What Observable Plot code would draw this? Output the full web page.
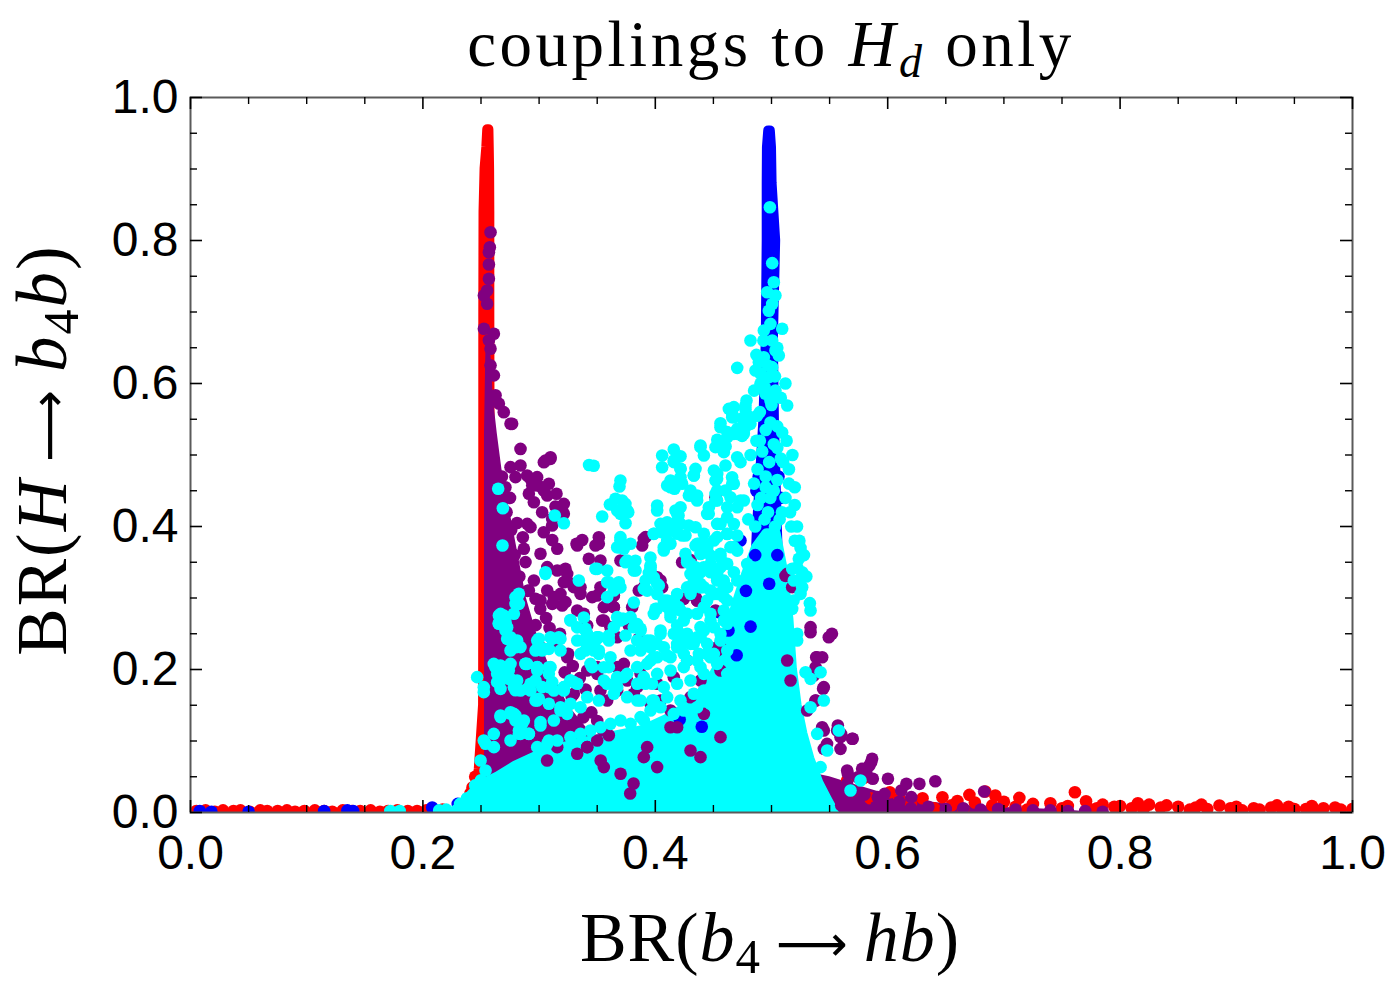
<!DOCTYPE html>
<html><head><meta charset="utf-8">
<script src="https://cdn.jsdelivr.net/npm/d3@7"></script>
<script src="https://cdn.jsdelivr.net/npm/@observablehq/plot@0.6"></script>
<style>body{margin:0;background:#fff}svg{display:block}</style>
</head><body><div id="chart"></div>
<script>
const xTicks = [0, 0.2, 0.4, 0.6, 0.8, 1.0];
const yTicks = [0, 0.2, 0.4, 0.6, 0.8, 1.0];
const minorTicks = [0.05,0.1,0.15,0.25,0.3,0.35,0.45,0.5,0.55,0.65,0.7,0.75,0.85,0.9,0.95];

// red points along the bottom, left of the spike  [x, y]
const redBase = [[.005,.002],[.013,.003],[.021,.001],[.028,.003],[.037,.002],[.043,.003],[.051,.001],[.06,.003],[.066,.002],[.075,.002],[.083,.003],[.09,.001],[.098,.002],[.107,.003],[.115,.002],[.122,.001],[.131,.003],[.139,.002],[.146,.002],[.155,.003],[.163,.001],[.17,.002],[.178,.003],[.187,.002],[.195,.002],[.203,.003],[.211,.002],[.217,.004],[.241,.027],[.2427,.035],[.238,.012],[.245,.05]];
const blueBase = [[.008,.002],[.018,.001],[.05,.001],[.115,.002],[.135,.003],[.14,.002],[.208,.007],[.23,.012]];
// red spike: [y, xLeft, xRight]
const redSpike = [[0,.2445,.2585],[.02,.245,.258],[.06,.2485,.2576],[.15,.2522,.2578],[.3,.2524,.2578],[.5,.2524,.2578],[.7,.2524,.2576],[.84,.2526,.2576],[.9,.2535,.2574],[.93,.255,.2571],[.955,.2558,.2568]];
// blue spike: [y, xLeft, xRight]
const blueSpike = [[0,.47,.515],[.1,.475,.512],[.25,.484,.508],[.4,.488,.505],[.55,.4935,.5025],[.66,.4955,.5016],[.8,.4963,.5036],[.88,.4963,.5005],[.93,.4965,.5],[.953,.4976,.499]];
// dense purple block: [y, xLeft, xRight]
const purpleBlock = [[0,.253,.42],[.06,.253,.40],[.10,.253,.35],[.15,.253,.325],[.20,.253,.31],[.25,.253,.298],[.30,.253,.289],[.36,.253,.282],[.42,.253,.275],[.48,.253,.268],[.53,.253,.264],[.58,.2535,.2605],[.63,.254,.259],[.66,.2545,.2575]];
// dense purple tail: [x, y]
const purpleTail = [[.52,.06],[.55,.05],[.57,.04],[.59,.03],[.61,.022],[.63,.016],[.66,.01],[.7,.007],[.75,.004],[.78,0]];
// red tail points [x, y]
const redTail = [[.5651,.0448],[.5795,.0485],[.6018,.0284],[.6471,.0214],[.6703,.0247],[.684,.0294],[.6926,.0238],[.675,.014],[.70,.015],[.7133,.0205],[.725,.012],[.74,.013],[.7611,.0284],[.7707,.0158],[.785,.011],[.80,.009],[.8153,.013],[.825,.011],[.835,.007],[.85,.008],[.865,.007],[.8855,.0098],[.90,.008],[.915,.006],[.93,.007],[.945,.008],[.96,.005],[.975,.006],[.99,.004],[1.0,.005],[.62,.012],[.63,.02],[.655,.01],[.66,.016],[.69,.01],[.71,.008],[.75,.006],[.78,.006],[.795,.008],[.81,.006],[.84,.01],[.87,.011],[.875,.005],[.895,.006],[.92,.004],[.935,.01],[.95,.005],[.965,.009],[.985,.007],[.57,.03],[.585,.02],[.61,.02],[.64,.006],[.665,.005],[.72,.004],[.755,.009],[.775,.004],[.82,.004],[.86,.004],[.905,.003],[.94,.003],[.97,.002]];
// dense cyan core: [x, y]
const cyanCore = [[.226,0],[.235,.012],[.245,.03],[.255,.042],[.265,.05],[.28,.065],[.30,.08],[.33,.095],[.36,.105],[.39,.115],[.41,.13],[.43,.15],[.445,.175],[.455,.205],[.463,.25],[.47,.29],[.478,.33],[.487,.37],[.496,.39],[.504,.39],[.51,.34],[.515,.27],[.518,.2],[.522,.15],[.527,.11],[.533,.075],[.541,.04],[.548,.018],[.554,0]];
// blue points showing through the cyan core
const blueCore = [[.4733,.3804],[.463,.2545],[.482,.26],[.487,.45],[.492,.42],[.489,.47],[.508,.44],[.506,.47],[.486,.36],[.505,.36],[.421,.13],[.455,.28],[.478,.31],[.498,.32],[.47,.22],[.44,.12]];
// scattered purple points
const purplePts = [[.2582,.8116],[.2576,.7906],[.2568,.7836],[.2568,.7664],[.2568,.7464],[.2553,.7301],[.2525,.7231],[.2553,.7115],[.2525,.6766],[.2611,.6696],[.2568,.6604],[.2582,.6487],[.2582,.6254],[.2611,.6114],[.2625,.5835],[.2654,.5718],
[.2696,.5599],[.2754,.5436],[.2768,.5436],[.284,.5085],[.3098,.4969],[.3041,.4899],[.284,.4853],[.2897,.4713],[.2983,.469],[.3084,.4597],[.3026,.455],[.3213,.4317],[.3141,.428],[.315,.4457],
[.2754,.483],[.2797,.469],[.2926,.4667],[.2984,.4573],[.304,.4503],[.2912,.4457],[.2955,.434],[.3055,.4923],[.2941,.4573],[.307,.4434],[.3026,.42],[.3098,.4946],[.3213,.4178],[.3112,.4108],[.3112,.4015],
[.2898,.4037],[.2926,.3991],[.304,.392],[.3113,.3811],[.3371,.3811],[.3514,.385],[.3485,.3734],[.3322,.3758],[.3528,.3524],[.37,.3524],[.3901,.3827],[.3887,.3734],
[.2869,.3688],[.2883,.3502],[.3012,.3618],[.307,.3432],[.3156,.3385],[.3242,.3338],[.3213,.3221],[.3299,.3152],[.3356,.3058],
[.2955,.3245],[.2912,.3105],[.3012,.2965],[.3127,.3012],[.3227,.2942],
[.3643,.3035],[.3528,.3151],[.3457,.3012],[.3858,.3105],[.4045,.3151],[.3801,.2872],[.3643,.2872],
[.3557,.2685],[.3414,.2615],[.3672,.2452],[.3772,.2615],[.3858,.2429],
[.4246,.2988],[.436,.2965],[.4231,.35],[.4518,.336],[.4518,.441],
[.5135,.3338],[.5178,.3152],[.5336,.2522],[.5493,.2452],[.5385,.2172],[.5436,.2172],[.5364,.1916],[.545,.1753],[.5379,.1566],[.5135,.2126],[.5164,.1846],[.5307,.1427],[.5436,.1193],[.5565,.1147],[.5594,.1054],[.5694,.1031],[.5651,.0587],[.578,.0611],[.5866,.0751],[.5444,.173],[.538,.1566],[.5571,.1217],[.5599,.11],[.545,.1146],[.5478,.096],[.5699,.1031],[.545,.089],[.5594,.089],
[.5858,.0704],[.5843,.0657],[.5815,.0564],[.5657,.0541],[.5743,.0494],[.5872,.0471],[.6002,.0471],[.6161,.0401],[.6273,.0401],[.641,.0438],[.683,.0294],[.6117,.0308],[.6203,.0215],[.5973,.0261],[.5915,.0215],
[.56,.01],[.575,.012],[.59,.008],[.605,.01],[.62,.006],[.635,.008],[.65,.005],[.665,.006],[.68,.004],[.695,.005],[.71,.004],[.725,.003],[.74,.003],[.755,.002],[.77,.002],[.785,.001],[.58,.025],[.595,.02],[.61,.015],[.57,.03],[.555,.035],[.565,.04],
[.297,.262],[.306,.272],[.301,.285],[.309,.258],[.296,.243],[.312,.236],[.318,.25],[.325,.222],[.329,.205],[.322,.196],[.335,.188],[.340,.172],[.328,.162],[.345,.14],[.35,.128],[.338,.133],[.355,.115],[.36,.108],[.29,.31],[.283,.33],[.279,.36],[.276,.395],[.272,.42],[.281,.405],[.286,.385],[.271,.455],[.268,.47],[.275,.44]];
const purplePts2 = [[.3813,.0405],[.3784,.0266],[.393,.0914],[.3414,.0914],[.353,.0727],[.3156,.0914],[.3069,.0727],[.4303,.0867],[.4389,.0774],[.4418,.138],[.4561,.1054],[.4188,.1193],[.4045,.1567],[.3815,.166],[.3672,.1706],[.3758,.1846],[.3873,.1939],[.35,.1939],[.3528,.1706],[.3586,.1567],[.3299,.166],[.4274,.2126],[.4159,.1893],[.4303,.1613],[.4389,.1846],[.4561,.1986],[.4532,.2266],[.3012,.2312],[.3242,.2172],[.3414,.1986],
[.3156,.3688],[.3328,.3734],[.3428,.3548],[.3514,.3758],[.3227,.3408],[.3285,.3198],[.3184,.3058],[.3356,.3151],[.307,.3105],[.2969,.2989],[.3113,.2918],[.3199,.2896],[.3328,.2825],[.3385,.2779],[.35,.3035],[.3643,.3035],[.3557,.2872],[.3543,.2685],[.3614,.2592],[.3643,.2872],[.4016,.3291],[.4059,.3151],[.3901,.3151],[.436,.2965],[.4532,.2312],[.35,.2033],[.3672,.2033],[.3729,.2079],[.3844,.1753],[.4016,.18],[.3959,.152],[.4131,.1427],[.4131,.1193],[.35,.1007],[.3414,.0914],[.3328,.0821],[.3557,.0635],[.3701,.0541],[.3901,.0774],[.4016,.0635],
[.3916,.3851],[.4045,.3245],[.4346,.3012],[.4518,.2825],[.4561,.2312],[.5336,.2592],[.552,.2499],[.539,.2172],[.538,.2032],[.512,.331],[.4303,.3532],[.4518,.3338]];
// scattered cyan points
const cyanPts = [[.343,.486],[.347,.485],[.2648,.4527],[.2688,.4256],[.2685,.3734],[.3692,.456],[.3657,.4387],[.3609,.4308],[.3543,.414],[.3767,.42],[.3744,.4046],[.3135,.4154],[.3213,.4046],
[.4059,.4829],[.416,.49],[.4217,.4807],[.4332,.4713],[.4102,.4573],[.4165,.4527],[.4203,.4643],[.4016,.4294],[.4016,.4224],[.4182,.406],[.42,.4154],[.4289,.4434],
[.4389,.5133],[.4418,.4993],[.4518,.511],[.4561,.5389],[.4633,.5645],[.4676,.5529],[.4776,.5692],[.4762,.5529],[.4676,.5296],[.4733,.5296],[.4819,.5436],
[.4504,.4783],[.4518,.4643],[.4604,.4853],[.4662,.4597],[.4518,.4364],[.446,.4178],[.4346,.399],[.426,.3874],[.4274,.3524],[.4375,.3758],
[.3987,.3897],[.4059,.392],[.4102,.3804],[.4073,.3664],[.3959,.3385],[.3944,.335],[.3815,.3385],[.37,.3804],[.3686,.371],[.3758,.3524],[.3586,.3385],[.35,.3408],[.36,.3221],[.3686,.3221],[.3342,.3245],[.3055,.3361],
[.327,.2693],[.3385,.2728],[.3414,.2499],[.3328,.2589],[.3112,.2429],[.2998,.2429],[.2984,.2289],[.3041,.2289],[.3184,.2266],
[.2811,.301],[.2797,.2918],[.2668,.2778],[.2653,.2639],[.2725,.2429],[.2797,.2359],[.284,.2313],
[.2668,.2056],[.2639,.194],[.2739,.1986],[.2883,.208],[.2984,.1986],[.2467,.1893],[.2524,.1683],[.2639,.1823],[.2754,.1869],[.2797,.171],[.2668,.1729],
[.2754,.1403],[.2797,.1356],[.2826,.1147],[.2898,.1729],[.2969,.1846],[.2984,.1566],[.3084,.194],[.3113,.1823],[.3213,.1706],[.3299,.1823],
[.3457,.2033],[.3414,.2359],[.35,.2452],[.3601,.2406],[.3643,.2592],[.3701,.2685],[.3787,.2732],[.3873,.2546],[.393,.2406],[.3873,.2266],[.3959,.2126],
[.3987,.2778],[.4016,.3056],[.393,.3103],[.4102,.2965],[.4188,.3056],[.4131,.2778],[.4217,.2499],[.4274,.2778],[.4274,.3149],[.4332,.3243],[.4303,.3336],
[.4389,.3616],[.4447,.3709],[.4475,.3476],[.4561,.3569],[.4619,.3896],[.4676,.4036],[.4561,.4036],[.4705,.3663],[.4791,.3476],[.4389,.3149],[.4504,.3056],[.459,.3243],
[.4475,.2685],[.4561,.2499],[.4647,.2732],[.4188,.2359],[.4303,.2359],[.4389,.2452],[.4274,.2126],[.4389,.2033],[.4475,.2172],
[.4819,.6601],[.4705,.6219],[.4785,.5762],[.4676,.5669],[.4662,.5576],[.4561,.5445],[.4619,.532],[.4705,.5366],[.4776,.539],
[.4533,.5213],[.4605,.512],[.4159,.5077],[.4217,.4983],[.4059,.4993],[.4131,.4643],[.4217,.4689],[.4346,.4806],[.4533,.4736],[.4303,.4503],[.436,.4433],[.4604,.4503],[.4661,.4689],
[.4174,.4224],[.4217,.427],[.4461,.427],[.4518,.4456],[.4045,.4037],[.4102,.406],[.4288,.4013],[.4131,.3944],[.4188,.3898],
[.37,.4643],[.3743,.4317],[.37,.4177],[.37,.3851],[.3829,.352],[.3958,.3567],[.37,.3148],[.3815,.2938],[.3844,.2635],
[.3987,.3288],[.426,.3618],[.4361,.3758],[.4418,.3898],[.4504,.3804],[.4561,.3618],[.4647,.3711],[.4533,.3292],[.459,.3152],[.4705,.427],[.4762,.4364],
[.5235,.355],[.5178,.3408],[.5264,.3361],[.525,.3268],[.533,.2928],[.519,.2965],[.5221,.25],[.5293,.1962],[.5336,.1869],[.5422,.1962],[.545,.1566],[.5336,.1473],[.5393,.11],[.5479,.0867],[.5422,.0634],[.5579,.1147],[.5766,.0448],[.568,.0308],
[.4986,.8466],[.5006,.7683],[.502,.7417],[.4963,.7277],[.5034,.7231],[.5006,.7111],[.4977,.7018],[.5092,.6765],[.4934,.6741],[.4991,.6834],[.5006,.6601],[.5034,.6461],[.5063,.6391],[.4891,.6298],[.4934,.6368],[.4862,.6182],[.4905,.6135],[.5006,.6229],[.4977,.6089],[.4905,.5996],[.4948,.5856],[.4991,.5763],[.5034,.5903],[.4776,.5641],[.5135,.5692],[.479,.5501],[.4747,.5268],[.4876,.5548],[.4991,.5454],[.5092,.5314],
[.482,.50],[.49,.52],[.505,.51],[.51,.49],[.495,.47],[.485,.46],[.502,.45],[.512,.44],[.488,.43],[.497,.42],[.507,.41],[.48,.41],[.515,.46],[.52,.43],[.517,.40],[.52,.38],[.525,.37],
[.3055,.3338],[.2797,.3012],[.2826,.3059],[.2697,.2754],[.2783,.2779],[.2654,.2648],[.2711,.2545],[.2754,.2405],[.2797,.2312],[.2625,.2032],[.2682,.1939],[.274,.1869],[.2783,.1753],[.2524,.1753],
[.2983,.2289],[.3026,.2266],[.3098,.2452],[.3184,.2429],[.2983,.2032],[.2897,.2079],[.3084,.2032],[.284,.1707],[.2926,.1707],[.2998,.159],[.3084,.1753],[.3213,.1753],[.327,.1846],[.3184,.1473],[.3241,.138],
[.2668,.1357],[.2754,.138],[.2797,.1287],[.2854,.124],[.2826,.1101],[.2912,.1101],[.3012,.1217],[.3084,.1007],[.2539,.0961],[.2611,.0914],[.2496,.0728],[.2539,.0588],
[.327,.2685],[.3399,.2545],[.3428,.2405],[.35,.2452],[.3356,.2219],[.3442,.2079],[.3557,.2032],[.3614,.2172],[.3672,.1846],[.3672,.2732],[.3729,.2708],[.3586,.3012],[.3643,.3105],[.3514,.2266],
[.3916,.18],[.3974,.1567],[.3845,.1567],[.3902,.1287],[.3715,.4364],[.3672,.4224],[.3758,.4224],
[.232,.012],[.238,.02],[.245,.038],[.25,.045],[.214,.003],[.22,.004],[.172,.002],[.18,.002]];
const cyanPts2 = [[.4662,.5646],[.4662,.5529],[.4791,.5552],[.4762,.5459],[.4705,.5296],[.4762,.5296],[.4619,.5249],[.4389,.511],[.459,.504],[.4705,.4969],[.4733,.49],[.4159,.4923],[.4217,.4807],[.4331,.4713],[.4532,.4667],[.4131,.455],[.4231,.4597],[.4303,.4434],[.436,.4364],[.4532,.4503],[.4647,.441],[.4532,.4364],[.4619,.427],[.4733,.4364],[.4676,.4597],[.4188,.4177],[.4217,.4037],[.4446,.4177],[.4532,.4037],[.4619,.413],[.3987,.3898],[.4102,.3781],[.4073,.3711],[.4231,.3874],[.4346,.3734],[.4389,.3757],[.4446,.3664],[.4532,.3851],[.4619,.3898],[.4705,.3874],[.4676,.3711],[.3959,.3455],[.3916,.3245],[.4016,.3198],[.4303,.3478],[.4346,.3431],[.4389,.3361],[.4475,.3361],[.4561,.3431],[.4619,.3478],[.4676,.3361],[.4303,.3151],[.4418,.3151],[.4532,.3245],[.4619,.3151],[.4705,.3245],[.4073,.2965],[.4016,.2848],[.4159,.2965],[.4217,.2825],[.4303,.3058],[.4446,.2965],[.4532,.3058],[.4619,.2965],[.4131,.2732],[.4245,.2685],[.436,.2779],[.4475,.2779],[.459,.2825],[.4045,.2499],[.4159,.2499],[.4274,.2499],[.4389,.2592],[.4504,.2592],[.4619,.2639],[.3959,.2312],[.4073,.2312],[.4217,.2312],[.4331,.2359],[.4446,.2359],[.4561,.2406],[.3987,.2172],[.4131,.2172],[.4245,.2219],[.4375,.2219],[.4504,.2219],[.4619,.2266],
[.5221,.3431],[.5192,.3245],[.5264,.3151],[.525,.3058],[.5178,.2848],[.5336,.2825],[.5221,.2406],
[.3672,.371],[.3729,.3688],[.3787,.3758],[.4102,.3758],[.4131,.3758],[.4274,.3501],[.4417,.3758],[.4475,.3594],[.4417,.3431],[.4532,.3338],
[.3485,.3408],[.3586,.3221],[.3744,.3501],[.383,.3385],[.3959,.3431],[.3901,.3128],[.403,.3175],[.4002,.2849],
[.2826,.2918],[.2654,.2755],[.2711,.2662],[.2725,.2592],[.2754,.2452],[.2811,.2406],[.2754,.2266],
[.3399,.2569],[.3328,.2406],[.317,.2452],[.2984,.2406],[.2969,.2266],[.3084,.2289],[.3385,.2406],[.3485,.2406],[.3514,.2452],[.36,.2476],[.3399,.2266],[.3471,.2266],[.3514,.2219],
[.3715,.2709],[.3744,.2476],[.3815,.2592],[.3873,.2569],[.3844,.2406],[.3901,.2359],[.3787,.2266],[.3959,.2406],[.4016,.2359],[.4045,.2545],[.4188,.2615],[.4102,.2872],[.4202,.2872],[.4331,.3151],[.4389,.3198],[.4475,.3105],[.459,.3012],[.4418,.2872],[.459,.2685],[.4418,.2545],[.436,.2452],[.4274,.2406],[.4188,.2312],[.4102,.2196],[.4016,.2172],[.393,.2079],[.3844,.2033],[.3758,.1939],[.3901,.1893],[.4016,.1939],[.4131,.1986],[.4245,.2033],[.436,.2126],[.4446,.2219],[.4532,.2079],[.4418,.1939],[.4303,.1846],[.4188,.18],[.4073,.1753],[.3973,.18],[.3844,.18],[.3672,.1893],[.36,.2033],[.3557,.1846],[.3643,.166],[.3758,.1613],[.3873,.1566],[.3987,.1566],[.4102,.1613],[.4217,.1566],[.4331,.166],[.4418,.1706],[.4532,.18],[.4619,.1939],
[.261,.2079],[.2754,.2079],[.2883,.2079],[.2984,.2033],[.3098,.2033],[.2668,.1846],[.2811,.1846],[.2926,.18],[.3027,.1753],[.3127,.1706],[.3213,.1753],[.327,.1846],[.3328,.18],[.2969,.1566],[.3084,.152],[.2668,.1334],[.2783,.138],[.2869,.1287],[.3012,.1264],[.3127,.1287],[.3184,.1427],[.327,.152],[.3356,.1473],[.3414,.1613],[.3514,.1566],[.3586,.18],[.3672,.1753],[.3729,.1893],[.2524,.1007],[.261,.11],[.2754,.1007],[.284,.11],[.2912,.11],[.2984,.0914],[.307,.0961],[.3156,.1007],[.327,.1054],[.3356,.11],[.3442,.1147],[.3528,.1193],[.3614,.124],[.3701,.1287],[.3787,.124],[.3873,.1334],[.3959,.1427],[.4045,.1473],[.4159,.138],[.4245,.1427],[.436,.1473],[.4475,.152],[.459,.1613],
[.486,.40],[.494,.41],[.503,.40],[.509,.42],[.491,.44],[.499,.44],[.495,.455],[.505,.465],[.488,.48],[.498,.49],[.508,.495],[.492,.505],[.502,.515],[.487,.52],[.495,.535],[.505,.54],[.49,.56],[.5,.57],[.508,.58],[.494,.595],[.503,.61],[.485,.59],[.512,.6],[.497,.625],[.487,.64],[.505,.65],[.493,.66],
[.513,.52],[.518,.5],[.515,.48],[.52,.455],[.516,.42],[.522,.4],[.524,.38],[.528,.36],[.53,.33]];

const CYAN = "#00ffff", PURPLE = "#800080", RED = "#ff0000", BLUE = "#0000ff";
const X = d => d[0], Y = d => d[1];
const R = 6.3;
const dots = (data, fill) => Plot.dot(data, {x: X, y: Y, r: R, fill, clip: true});
const fmt = d3.format(".1f");
const H = 715, W = 1162;

const svg = Plot.plot({
  width: 1389, height: 993,
  marginLeft: 190, marginRight: 37, marginTop: 97, marginBottom: 181,
  x: {domain: [0, 1]}, y: {domain: [0, 1]},
  style: {fontFamily: "'Liberation Sans', Arial, sans-serif", background: "white", color: "black"},
  marks: [
    dots(redBase, RED),
    dots(blueBase, BLUE),
    Plot.areaX(redSpike, {y: d => d[0], x1: d => d[1], x2: d => d[2], fill: RED, stroke: RED, strokeWidth: 10, strokeLinejoin: "round", clip: true}),
    Plot.areaX(blueSpike, {y: d => d[0], x1: d => d[1], x2: d => d[2], fill: BLUE, stroke: BLUE, strokeWidth: 10, strokeLinejoin: "round", clip: true}),
    Plot.areaX(purpleBlock, {y: d => d[0], x1: d => d[1], x2: d => d[2], fill: PURPLE, clip: true}),
    Plot.areaY(purpleTail, {x: X, y: Y, fill: PURPLE, clip: true}),
    dots(redTail, RED),
    Plot.areaY(cyanCore, {x: X, y: Y, fill: CYAN, stroke: CYAN, strokeWidth: 10, strokeLinejoin: "round", clip: true}),
    dots(blueCore, BLUE),
    dots(purplePts, PURPLE),
    dots(purplePts2, PURPLE),
    dots(cyanPts, CYAN),
    dots(cyanPts2, CYAN),
    Plot.frame({stroke: "#5a5a5a", strokeWidth: 2}),
    Plot.ruleX(xTicks, {x: d => d, insetTop: H - 12, stroke: "black", strokeWidth: 1.6}),
    Plot.ruleX(xTicks, {x: d => d, insetBottom: H - 12, stroke: "black", strokeWidth: 1.6}),
    Plot.ruleX(minorTicks, {x: d => d, insetTop: H - 7, stroke: "black", strokeWidth: 1.4}),
    Plot.ruleX(minorTicks, {x: d => d, insetBottom: H - 7, stroke: "black", strokeWidth: 1.4}),
    Plot.ruleY(yTicks, {y: d => d, insetRight: W - 12, stroke: "black", strokeWidth: 1.6}),
    Plot.ruleY(yTicks, {y: d => d, insetLeft: W - 12, stroke: "black", strokeWidth: 1.6}),
    Plot.ruleY(minorTicks, {y: d => d, insetRight: W - 7, stroke: "black", strokeWidth: 1.4}),
    Plot.ruleY(minorTicks, {y: d => d, insetLeft: W - 7, stroke: "black", strokeWidth: 1.4}),
    Plot.axisX({ticks: xTicks, tickSize: 0, tickPadding: 22, fontSize: 48, tickFormat: fmt, label: null}),
    Plot.axisY({ticks: yTicks, tickSize: 0, tickPadding: 12, fontSize: 48, tickFormat: fmt, label: null})
  ]
});

const s = d3.select(svg);
const serif = "'Liberation Serif', 'Times New Roman', serif";
const arrowFont = "'DejaVu Sans', sans-serif";
// title
const t = s.append("text").attr("x", 771).attr("y", 66).attr("text-anchor", "middle")
  .attr("font-family", serif).attr("font-size", 65).attr("letter-spacing", 3.5).attr("fill", "black");
t.append("tspan").text("couplings to ");
t.append("tspan").attr("font-style", "italic").text("H");
t.append("tspan").attr("font-style", "italic").attr("font-size", 46).attr("dy", 11).text("d");
t.append("tspan").attr("dy", -11).text(" only");
// x label
const xl = s.append("text").attr("x", 770).attr("y", 961).attr("text-anchor", "middle")
  .attr("font-family", serif).attr("font-size", 70).attr("letter-spacing", 1).attr("fill", "black");
xl.append("tspan").text("BR(");
xl.append("tspan").attr("font-style", "italic").text("b");
xl.append("tspan").attr("font-size", 49).attr("dy", 12).text("4");
xl.append("tspan").attr("dy", -12).text("\u2009");
xl.append("tspan").attr("font-family", arrowFont).attr("font-size", 50).text("\u27F6");
xl.append("tspan").text("\u2009");
xl.append("tspan").attr("font-style", "italic").text("hb");
xl.append("tspan").text(")");
// y label
const yl = s.append("text").attr("transform", "translate(66,450) rotate(-90)").attr("text-anchor", "middle")
  .attr("font-family", serif).attr("font-size", 71).attr("letter-spacing", 2).attr("fill", "black");
yl.append("tspan").text("BR(");
yl.append("tspan").attr("font-style", "italic").text("H");
yl.append("tspan").text("\u2009");
yl.append("tspan").attr("font-family", arrowFont).attr("font-size", 50).text("\u27F6");
yl.append("tspan").text("\u2009");
yl.append("tspan").attr("font-style", "italic").text("b");
yl.append("tspan").attr("font-size", 50).attr("dy", 12).text("4");
yl.append("tspan").attr("dy", -12).attr("font-style", "italic").text("b");
yl.append("tspan").text(")");

document.getElementById("chart").appendChild(svg);
</script>
</body></html>
